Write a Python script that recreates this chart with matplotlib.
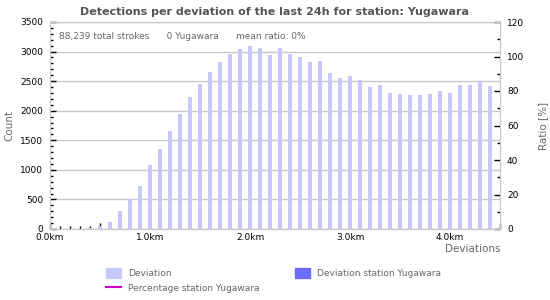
import numpy as np
import matplotlib
matplotlib.use('Agg')
import matplotlib.pyplot as plt
from matplotlib.ticker import MultipleLocator, FuncFormatter
from matplotlib.patches import Patch
from matplotlib.lines import Line2D

# deviation in km, one bar per 100 m
distancias = [i / 10 for i in range(45)]
contagem = [5, 0, 0, 0, 10, 45, 125, 300, 500, 720,
            1075, 1345, 1650, 1937, 2232, 2445, 2652, 2832, 2955, 3038,
            3102, 3052, 2935, 3052, 2967, 2900, 2830, 2847, 2632, 2547,
            2581, 2513, 2395, 2430, 2293, 2276, 2259, 2259, 2276, 2327,
            2293, 2430, 2430, 2496, 2413]
contagem_estacao = [0] * 45
razao_estacao = [np.nan] * 45

titulo = 'Detections per deviation of the last 24h for station: Yugawara'
resumo = '88,239 total strokes      0 Yugawara      mean ratio: 0%'

COR_BARRA = '#c8c8fa'
COR_ESTACAO = '#6b6bff'
COR_LINHA = '#cc00cc'
CINZA = '#666666'

fig = plt.figure(figsize=(5.5, 3), dpi=100)
ax = fig.add_axes([50 / 550, 1 - 229 / 300, 450 / 550, 207 / 300])
ax2 = ax.twinx()

ax.bar(distancias, contagem, width=0.04, color=COR_BARRA, zorder=2)
ax.bar(distancias, contagem_estacao, width=0.04, color=COR_ESTACAO, zorder=3)
ax2.plot(distancias, razao_estacao, color=COR_LINHA, lw=1.5)

ax.set_xlim(0, 4.5)
ax.set_ylim(0, 3500)
ax2.set_ylim(0, 120)

ax.xaxis.set_major_locator(MultipleLocator(0.5))
ax.xaxis.set_minor_locator(MultipleLocator(0.1))
ax.xaxis.set_major_formatter(FuncFormatter(
    lambda v, p: '%.1fkm' % v if abs(v - round(v)) < 1e-6 else ''))
ax.yaxis.set_major_locator(MultipleLocator(500))
ax.yaxis.set_minor_locator(MultipleLocator(100))
ax2.yaxis.set_major_locator(MultipleLocator(20))
ax2.yaxis.set_minor_locator(MultipleLocator(10))

ax.grid(axis='y', color='#c8c8c8', lw=1, zorder=1)
ax.set_axisbelow(True)
for a in (ax, ax2):
    for s in a.spines.values():
        s.set_color('#c8c8c8')
    a.tick_params(which='major', direction='in', length=4, width=1,
                  color='black', labelsize=6.5, pad=5)
    a.tick_params(which='minor', direction='in', length=2, width=1,
                  color='black')
ax.tick_params(axis='x', which='major', pad=3)

ax.set_title(titulo, fontsize=8, fontweight='bold', color='#555555', pad=5)
ax.text(0.02, 0.93, resumo, transform=ax.transAxes, fontsize=6.5,
        color=CINZA, va='center')

ax.set_ylabel('Count', fontsize=7.5, color=CINZA, labelpad=4)
ax2.set_ylabel('Ratio [%]', fontsize=7.5, color=CINZA, labelpad=10)
ax.set_xlabel('Deviations', fontsize=7.5, color=CINZA, loc='right', labelpad=1)

handles = [Patch(color=COR_BARRA), Line2D([], [], color=COR_LINHA, lw=1.5),
           Patch(color=COR_ESTACAO)]
labels = ['Deviation', 'Percentage station Yugawara', 'Deviation station Yugawara']
leg = fig.legend(handles, labels, ncol=2, frameon=False, fontsize=6.5,
                 loc='upper left', bbox_to_anchor=(98 / 550, 1 - 260 / 300),
                 handlelength=1.6, handleheight=1.3, columnspacing=4.0,
                 labelspacing=0.6)
for t in leg.get_texts():
    t.set_color(CINZA)

fig.savefig('out.png', dpi=100)
